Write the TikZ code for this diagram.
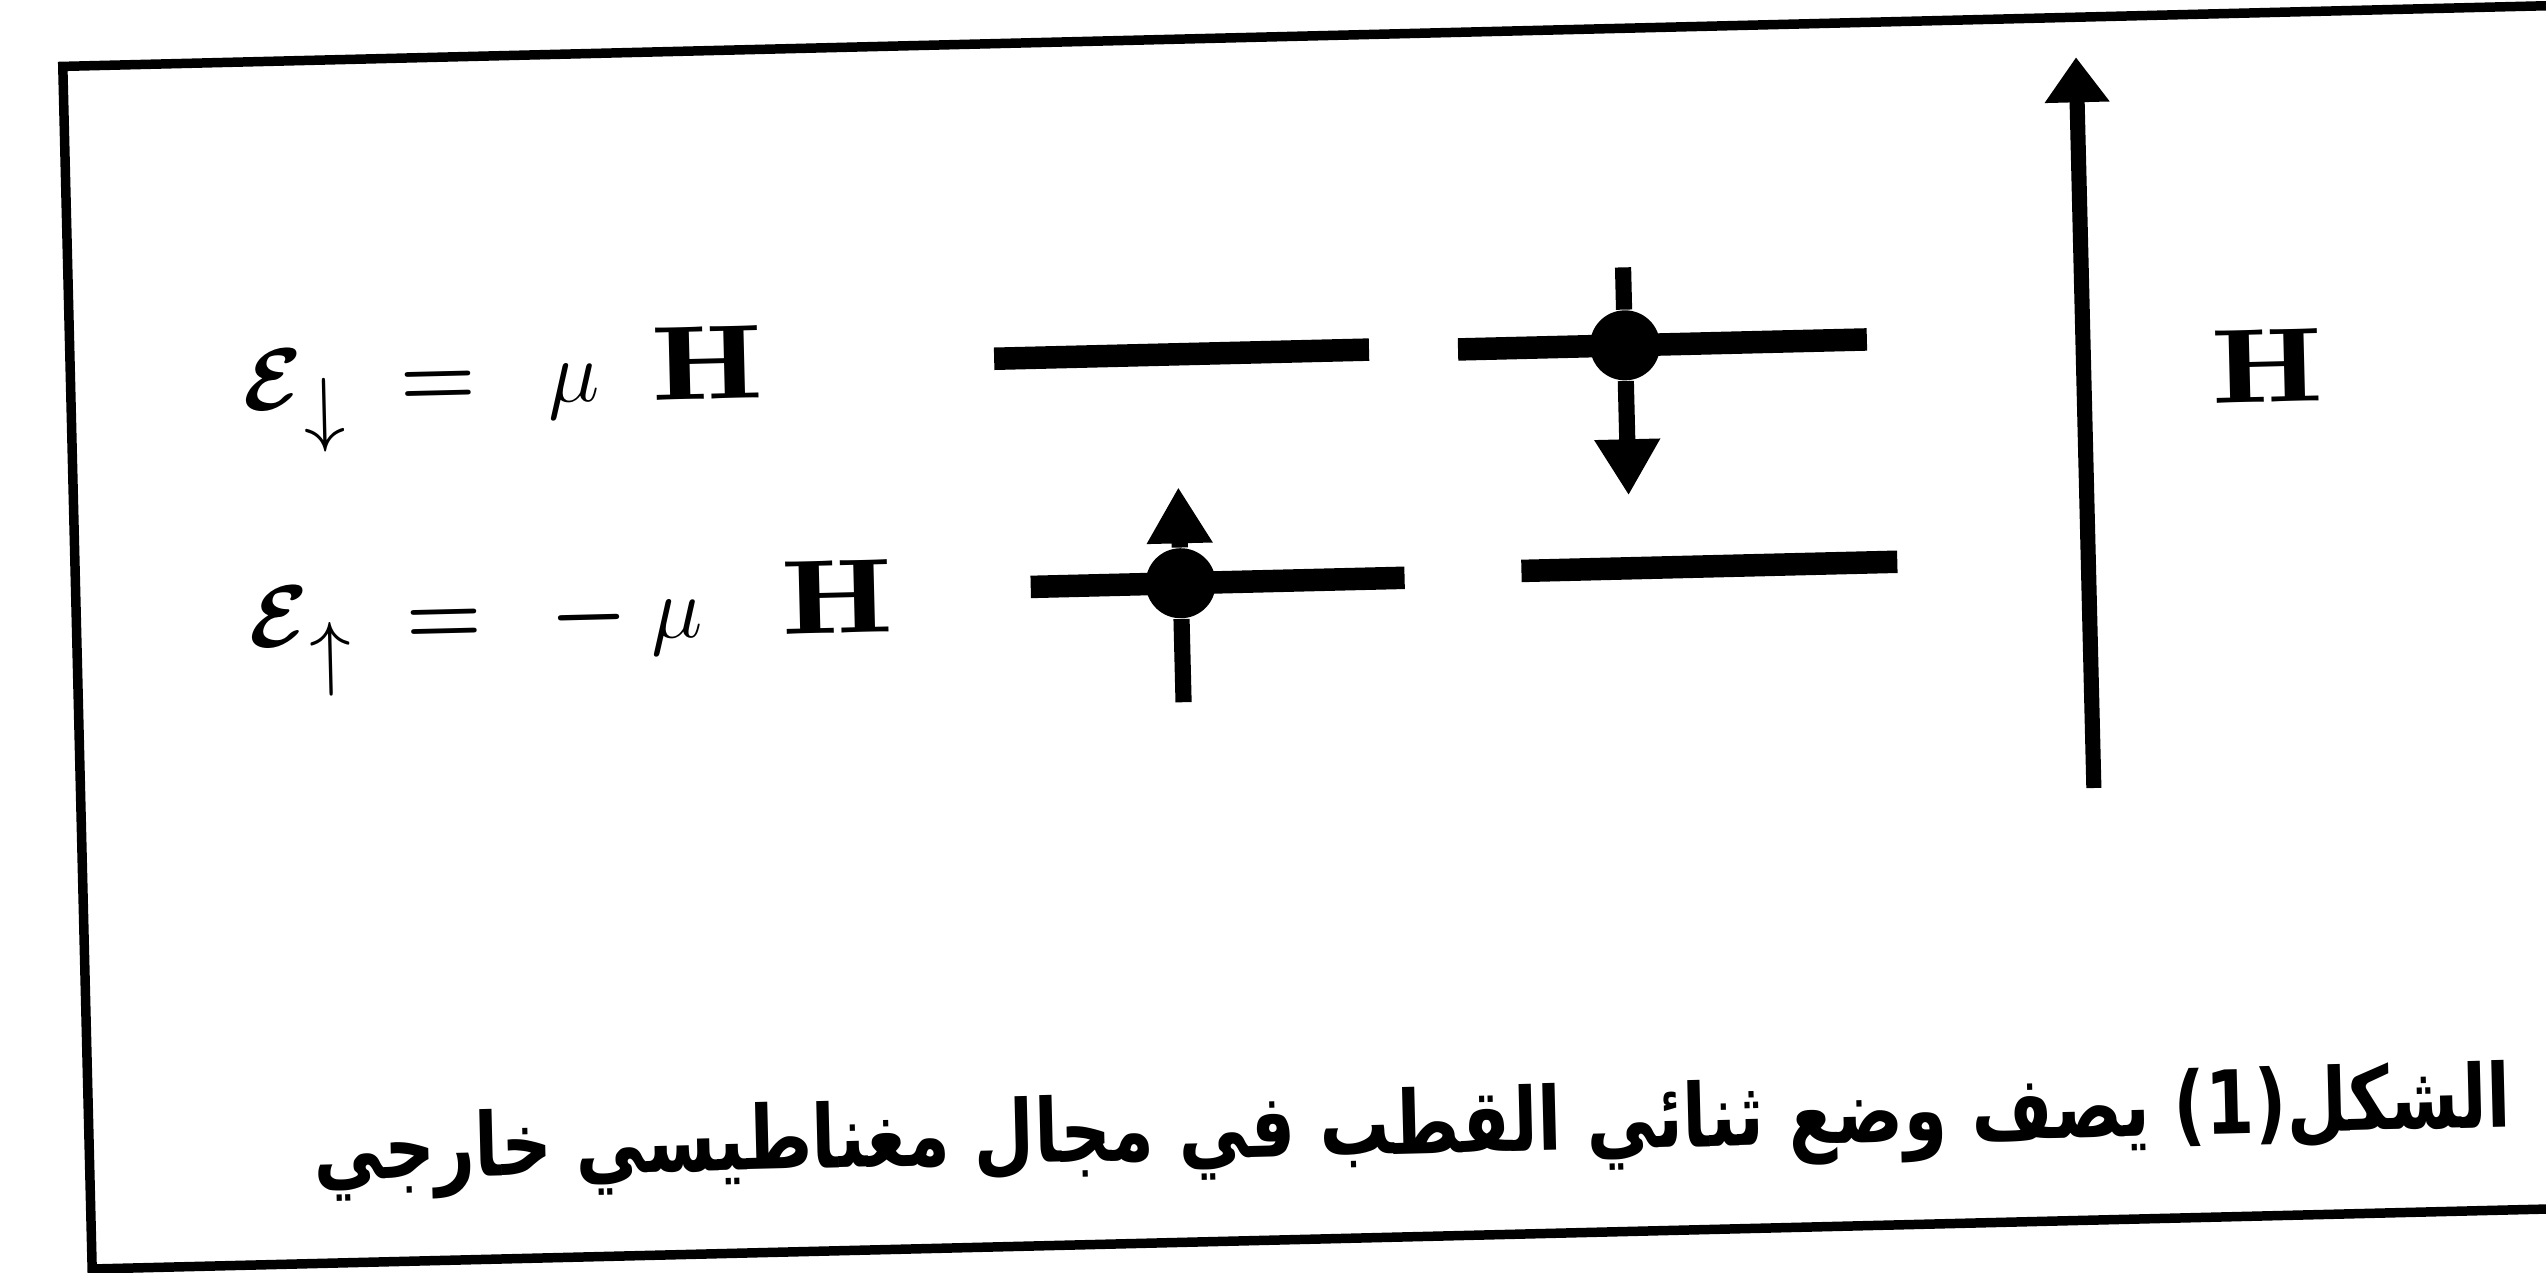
\documentclass[tikz,border=0pt]{standalone}
\usepackage{amsmath,bm}
\usepackage{fontspec}
\newfontfamily\arabicfont[Script=Arabic]{DejaVu Sans}
\TeXXeTstate=1
\usetikzlibrary{arrows.meta}

\newcommand{\subarr}[2]{\raisebox{#1}{\scalebox{0.95}{$#2$}}}
\newcommand{\Hfield}{\scalebox{1.35}[1]{$\mathbf{H}$}}

\begin{document}
\begin{tikzpicture}[
x=0.01cm, y=0.01cm,
frame/.style={line width=2.7pt},
level/.style={line width=6.4pt},
stem/.style={line width=4.6pt},
spinarr/.style={line width=4.6pt, -{Triangle[width=0.62cm,length=0.56cm]}},
fieldarr/.style={line width=4.3pt, -{Triangle[width=0.62cm,length=0.45cm]}},
spin/.style={circle, fill, inner sep=0pt, minimum size=0.7cm},
lbl/.style={font=\fontsize{30}{34}\selectfont, inner sep=0pt},
caption/.style={font=\fontsize{25}{30}\selectfont\arabicfont\bfseries, inner sep=0pt}
]
\useasboundingbox (0,0) rectangle (2546,1272);
\clip (0,0) rectangle (2546,1272);
\begin{scope}[rotate around={1.4:(1273,636)}, transform shape]
\draw[frame] (77,32) rectangle (2700,1235);

\coordinate (ulA) at (1001,920);
\coordinate (ulB) at (1376,920);
\coordinate (urA) at (1465,918);
\coordinate (urB) at (1874,918);
\coordinate (llA) at (1032,691);
\coordinate (llB) at (1406,691);
\coordinate (lrA) at (1523,695);
\coordinate (lrB) at (1899,695);
\draw[level] (ulA) -- (ulB);
\draw[level] (urA) -- (urB);
\draw[level] (llA) -- (llB);
\draw[level] (lrA) -- (lrB);

\node[spin] (sdown) at (1632,918) {};
\coordinate (sdowntop) at (1632,996);
\coordinate (sdowntip) at (1632,768);
\draw[stem] (sdowntop) -- (sdown);
\draw[spinarr] (sdown) -- (sdowntip);

\node[spin] (sup) at (1182,691) {};
\coordinate (suptip) at (1182,787);
\coordinate (supbot) at (1182,572);
\draw[stem] (supbot) -- (sup);
\draw[spinarr] (sup) -- (suptip);

\coordinate (fbot) at (2090,464);
\coordinate (ftop) at (2090,1195);
\draw[fieldarr] (fbot) -- (ftop);

\node[lbl, anchor=base west] (edown) at (249,887) {$\bm{\mathcal{E}}_{\subarr{-0.14em}{\downarrow}}\hspace{0.5em}{\bm{=}}\hspace{0.68em}\mu\hspace{0.5em}\Hfield$};
\node[lbl, anchor=base west] (eup) at (249,649) {$\bm{\mathcal{E}}_{\subarr{-0.2em}{\uparrow}}\hspace{0.5em}{\bm{=}}\hspace{0.64em}{\bm{-}}\hspace{0.22em}\mu\hspace{0.75em}\Hfield$};
\node[lbl, anchor=base] (hlabel) at (2274,845) {\Hfield};
\node[caption, anchor=base east] (cap) at (2500,115) {\scalebox{0.795}[1]{\beginR الشكل(1) يصف وضع ثنائي القطب في مجال مغناطيسي خارجي\endR}};
\end{scope}
\end{tikzpicture}
\end{document}
